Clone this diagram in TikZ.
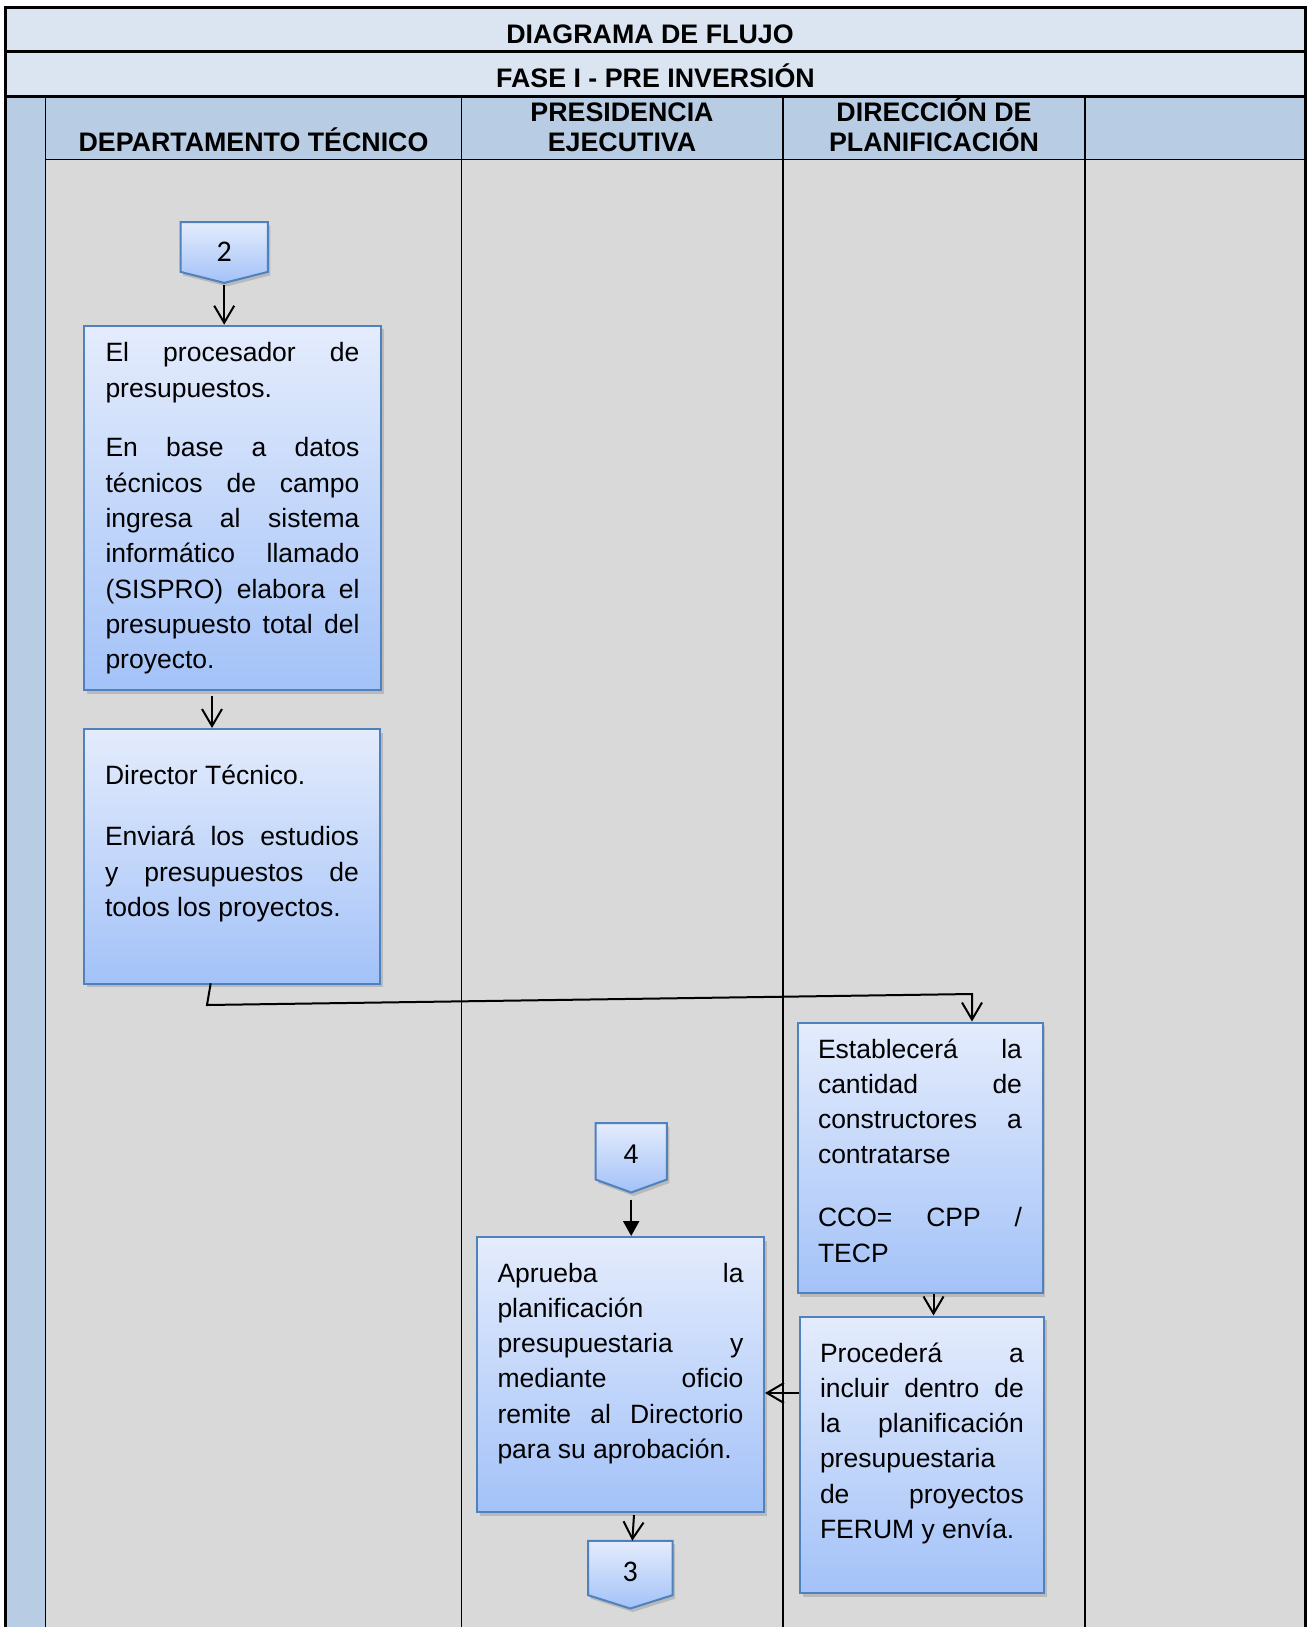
\documentclass[tikz,border=0pt]{standalone}
\usepackage{fontspec}
\setmainfont{Liberation Sans}
\newfontfamily\calfont{Carlito}
\usetikzlibrary{arrows.meta,shadows,calc}
\definecolor{titlebg}{HTML}{DBE5F1}
\definecolor{hdrbg}{HTML}{B8CCE4}
\definecolor{bodybg}{HTML}{D9D9D9}
\definecolor{boxblue}{HTML}{4F81BD}
\definecolor{boxtop}{HTML}{E4ECFC}
\definecolor{boxbot}{HTML}{A3C2F8}
\pgfdeclarelayer{bg}
\pgfdeclarelayer{mid}
\pgfsetlayers{bg,mid,main}
\newcommand{\jline}[1]{\makebox[\linewidth][s]{#1}}
\newcommand{\boxtxt}[4]{\parbox[c][#2][t]{#1}{\fontsize{26.5}{35.3}\selectfont\rule{0pt}{#3}#4}}
\tikzset{
  hdr/.style={font=\fontsize{26.8}{30}\selectfont\bfseries, inner sep=0pt, anchor=base},
  procbox/.style={rectangle, draw=boxblue, line width=2pt, top color=boxtop, bottom color=boxbot,
    drop shadow={shadow xshift=2.5pt, shadow yshift=-3.5pt, opacity=0.35}, inner sep=0pt},
  pent/.style={draw=boxblue, line width=2pt, top color=boxtop, bottom color=boxbot,
    drop shadow={shadow xshift=2.5pt, shadow yshift=-3.5pt, opacity=0.35}},
  conn/.style={rectangle, inner sep=0pt},
  arr/.style={line width=2pt, -{Straight Barb[length=17pt,width=20pt]}},
  arrf/.style={line width=2.2pt, -{Triangle[length=15pt,width=16pt]}},
  grid/.style={line width=1.7pt},
  frame/.style={line width=3pt}
}
\begin{document}
\begin{tikzpicture}[x=1pt,y=-1pt]
\useasboundingbox (0,0) rectangle (1312,1627);
% ---------- table ----------
\begin{pgfonlayer}{bg}
\fill[titlebg] (5.5,7.5) rectangle (1305.5,96.5);
\fill[hdrbg] (5.5,96.5) rectangle (1305.5,159.5);
\fill[hdrbg] (5.5,159.5) rectangle (45.5,1627);
\fill[bodybg] (45.5,159.5) rectangle (1305.5,1627);
\draw[line width=1.2pt] (45.5,159.5) -- (1305.5,159.5);
\draw[grid] (45.5,96.5) -- (45.5,1627);
\draw[grid] (461.5,96.5) -- (461.5,1627);
\draw[grid] (783,96.5) -- (783,1627);
\draw[line width=2.2pt] (1085,96.5) -- (1085,1627);
\draw[frame] (5.5,51.5) -- (1305.5,51.5);
\draw[frame] (5.5,96.5) -- (1305.5,96.5);
\draw[frame] (5.5,1627) -- (5.5,7.5) -- (1305.5,7.5) -- (1305.5,1627);
\end{pgfonlayer}
% ---------- headings ----------
\node[hdr] (t1) at (650,44) {DIAGRAMA DE FLUJO};
\node[hdr] (t2) at (655.5,87.5) {FASE I - PRE INVERSIÓN};
\node[hdr] (h1) at (253.5,151.7) {DEPARTAMENTO TÉCNICO};
\node[hdr] (h2a) at (622,121.6) {PRESIDENCIA};
\node[hdr] (h2b) at (622,151.6) {EJECUTIVA};
\node[hdr] (h3a) at (934,121.6) {DIRECCIÓN DE};
\node[hdr] (h3b) at (934,151.6) {PLANIFICACIÓN};
% ---------- off-page connectors ----------
\node[conn, minimum width=87pt, text height=39.1pt, text depth=10.3pt,
  font=\calfont\fontsize{30}{32}\selectfont] (c2) at (224.2,247) {2};
\node[conn, minimum width=71pt, text height=39.7pt, text depth=16.3pt,
  font=\fontsize{27}{30}\selectfont] (c4) at (631.2,1151.3) {4};
\node[conn, minimum width=84pt, text height=40.3pt, text depth=13.7pt,
  font=\calfont\fontsize{30}{32}\selectfont] (c3) at (630.3,1568) {3};
\begin{pgfonlayer}{mid}
\path[pent] (c2.north west) -- (c2.north east) -- (c2.south east) -- ([yshift=-11pt]c2.south) -- (c2.south west) -- cycle;
\path[pent] (c4.north west) -- (c4.north east) -- (c4.south east) -- ([yshift=-13pt]c4.south) -- (c4.south west) -- cycle;
\path[pent] (c3.north west) -- (c3.north east) -- (c3.south east) -- ([yshift=-13.3pt]c3.south) -- (c3.south west) -- cycle;
\end{pgfonlayer}
% ---------- process boxes ----------
\node[procbox, minimum width=297pt, minimum height=364.3pt] (box1) at (232.5,507.85)
 {\boxtxt{254pt}{364.3pt}{36pt}{\jline{El procesador de}\\
 presupuestos.\\[24.5pt]
 \jline{En base a datos}\\
 \jline{técnicos de campo}\\
 \jline{ingresa al sistema}\\
 \jline{informático llamado}\\
 \jline{(SISPRO) elabora el}\\
 \jline{presupuesto total del}\\
 proyecto.}};
\node[procbox, minimum width=296pt, minimum height=254.5pt] (box2) at (232,856.25)
 {\boxtxt{254pt}{254.5pt}{55pt}{Director Técnico.\\[26.5pt]
 \jline{Enviará los estudios}\\
 \jline{y presupuestos de}\\
 todos los proyectos.}};
\node[procbox, minimum width=245pt, minimum height=270.5pt] (box3) at (920,1157.75)
 {\boxtxt{204pt}{270.5pt}{35.5pt}{\jline{Establecerá la}\\
 \jline{cantidad de}\\
 \jline{constructores a}\\
 contratarse\\[27.5pt]
 \jline{CCO= CPP /}\\
 TECP}};
\node[procbox, minimum width=244pt, minimum height=276.5pt] (box4) at (922,1454.75)
 {\boxtxt{204pt}{276.5pt}{45.5pt}{\jline{Procederá a}\\
 \jline{incluir dentro de}\\
 \jline{la planificación}\\
 presupuestaria\\
 \jline{de proyectos}\\
 FERUM y envía.}};
\node[procbox, minimum width=287pt, minimum height=275pt] (box5) at (620.5,1374.5)
 {\boxtxt{246pt}{275pt}{45pt}{\jline{Aprueba la}\\
 planificación\\
 \jline{presupuestaria y}\\
 \jline{mediante oficio}\\
 \jline{remite al Directorio}\\
 para su aprobación.}};
% ---------- connectors ----------
\coordinate (p2) at ([yshift=-13.3pt]c2.south);
\draw[arr] (p2) -- (p2 |- box1.north);
\draw[arr] ([xshift=-20.5pt,yshift=-5pt]box1.south) -- ([xshift=-20pt]box2.north);
\draw[arr] ([xshift=-21.3pt,yshift=1.2pt]box2.south) -- (207,1005) -- (972,994) -- ([xshift=52pt]box3.north);
\coordinate (p34) at ([xshift=13.5pt]box3.south);
\draw[arr] (p34) -- (p34 |- box4.north);
\coordinate (p45) at ([yshift=61.75pt]box4.west);
\draw[arr] (p45) -- (p45 -| box5.east);
\coordinate (p4) at ([yshift=-20pt]c4.south);
\draw[arrf] (p4) -- (p4 |- box5.north);
\draw[arr] ([xshift=13.5pt,yshift=-2pt]box5.south) -- ([xshift=2pt]c3.north);
\end{tikzpicture}
\end{document}
